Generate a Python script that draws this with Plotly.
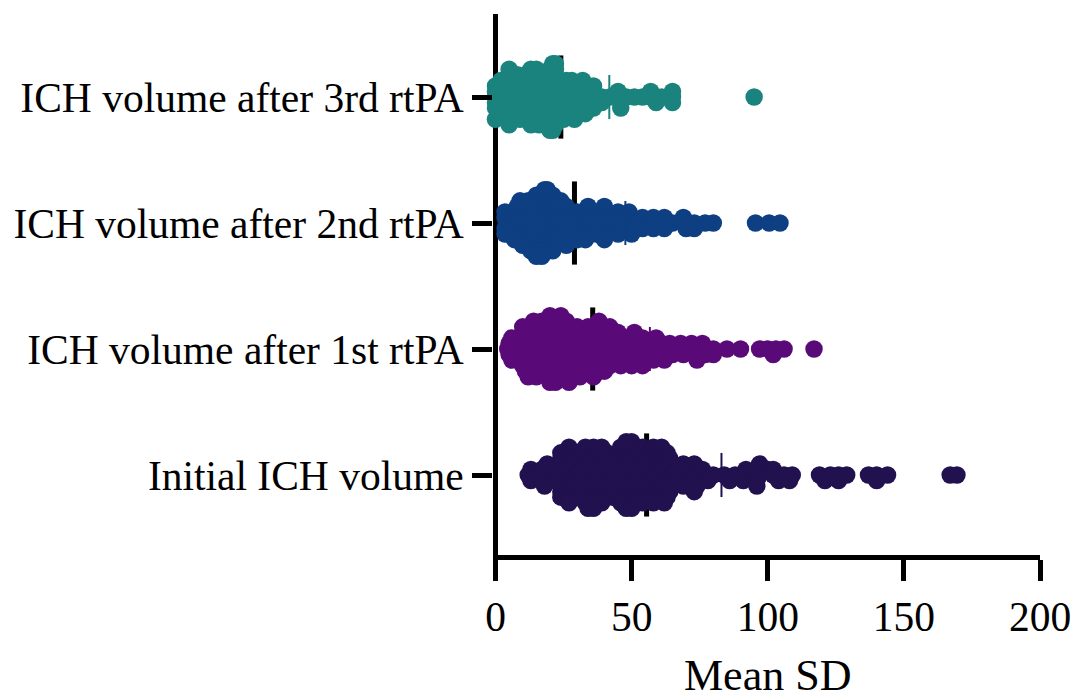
import plotly.graph_objects as go

categories = ["Initial ICH volume", "ICH volume after 1st rtPA",
              "ICH volume after 2nd rtPA", "ICH volume after 3rd rtPA"]
colors = ["#22114f", "#5a0a78", "#0d3f82", "#1a837e"]
medians = [55.5, 35.7, 29, 24]
upper_quartiles = [83, 56.7, 47.7, 41.8]
x_ticks = [0, 50, 100, 150, 200]

# Swarm rows: first list is the top row of the swarm,
# middle list is on the category line, last list is the bottom row.
initial_rows = [
    [48, 50],
    [27, 33, 36, 39, 46, 50, 54, 58, 61],
    [24, 27, 30, 33, 37, 41, 45, 49, 53, 57, 61, 63],
    [24, 28, 32, 36, 40, 44, 48, 52, 56, 60, 64],
    [19, 24, 29, 34, 39, 44, 49, 54, 59, 64, 69, 73, 97],
    [13, 17, 22, 27, 32, 37, 42, 47, 52, 57, 62, 67, 72, 76, 92, 96, 100, 102],
    [12, 16, 20, 25, 30, 35, 40, 45, 50, 55, 60, 65, 70, 75, 80, 84, 88, 92, 97, 102, 106, 109, 119, 123, 126, 129, 137, 140, 144, 167, 169.5],
    [13, 17, 22, 27, 32, 37, 42, 47, 52, 57, 62, 67, 72, 78, 86, 91, 96, 104, 108, 121, 126, 140],
    [18, 24, 29, 34, 39, 44, 49, 54, 59, 64, 69, 74, 96],
    [24, 28, 32, 36, 40, 44, 48, 52, 56, 60, 64, 73],
    [24, 27, 31, 35, 39, 43, 47, 51, 55, 59, 63],
    [27, 33, 37, 39, 46, 50, 54, 58, 62],
    [34, 36, 48, 50],
]
first_rows = [
    [20, 24],
    [14, 17, 20, 23, 26, 38],
    [10, 14, 18, 22, 26, 30, 34, 38, 42],
    [10, 14, 18, 22, 26, 30, 34, 38, 42, 45, 51],
    [6, 10, 14, 18, 22, 26, 30, 34, 38, 42, 46, 50, 54, 59],
    [5, 9, 13, 17, 21, 25, 29, 33, 37, 41, 45, 49, 53, 57, 61, 64, 68, 72, 76],
    [4.5, 8, 12, 16, 20, 24, 28, 32, 36, 40, 44, 48, 52, 56, 60, 64, 68, 72, 76, 80, 85, 90, 97, 100, 103, 106, 117],
    [5, 9, 13, 17, 21, 25, 29, 33, 37, 41, 45, 49, 53, 57, 61, 65, 69, 73, 77, 80, 102],
    [6, 10, 14, 18, 22, 26, 30, 34, 38, 42, 46, 50, 54, 58, 62, 74],
    [10, 14, 18, 22, 26, 30, 34, 38, 42, 46, 50, 54],
    [11, 14, 18, 22, 26, 30, 34, 38, 40],
    [12, 15, 19, 23, 27, 31, 36],
    [20, 22, 27],
]
second_rows = [
    [18, 19],
    [15, 18, 21],
    [9, 12, 15, 18, 21, 24],
    [8, 11, 14, 17, 20, 23, 26, 34, 40],
    [3.5, 7, 10, 14, 18, 22, 26, 30, 34, 38, 41, 45, 49],
    [3.5, 6, 10, 14, 18, 22, 26, 30, 34, 38, 42, 46, 50, 54, 58, 62, 69],
    [4, 6, 9, 13, 17, 21, 25, 29, 33, 37, 41, 45, 49, 53, 57, 61, 65, 69, 73, 77, 80, 95.5, 100.5, 104.5],
    [3.5, 6, 10, 14, 18, 22, 26, 30, 34, 38, 42, 46, 50, 54, 58, 62, 70, 73],
    [3.5, 5, 9, 13, 17, 21, 25, 29, 33, 37, 41, 45, 50],
    [7, 10, 14, 18, 22, 26, 30, 33, 40],
    [10, 13, 16, 19, 22, 26],
    [13, 16, 19, 21],
    [15, 17],
]
third_rows = [
    [21, 22],
    [5, 13, 15, 20, 22],
    [5, 8, 11, 14, 17, 20, 22],
    [2, 5, 8, 11, 14, 17, 20, 23, 26, 28, 32],
    [0, 3, 6, 9, 12, 15, 18, 21, 24, 27, 30, 33, 36],
    [0, 3, 6, 9, 12, 15, 18, 21, 24, 27, 30, 33, 36, 45, 57, 65],
    [0, 3, 6, 9, 12, 15, 18, 21, 24, 27, 30, 33, 36, 39, 42, 45, 48, 51, 54, 57, 61, 65, 95],
    [0, 3, 6, 9, 12, 15, 18, 21, 24, 27, 30, 33, 36, 39, 46, 59, 65],
    [0, 3, 6, 9, 12, 15, 18, 21, 24, 27, 30, 33, 36, 46],
    [1, 4, 7, 10, 13, 16, 19, 22, 25, 28, 31, 33],
    [0, 5, 9, 13, 17, 21, 25, 29],
    [5, 13, 16, 19, 22],
    [20, 21],
]
all_rows = [initial_rows, first_rows, second_rows, third_rows]

ROW_STEP = 0.044
FONT = "Liberation Serif"

fig = go.Figure()

# Median: thick black bar, underneath the points
fig.add_trace(go.Scatter(
    x=medians, y=list(range(4)), mode="markers",
    marker=dict(size=1, color="black", opacity=0),
    error_y=dict(type="constant", value=0.33, thickness=5, width=0, color="black"),
    cliponaxis=False, showlegend=False))

for i, rows in enumerate(all_rows):
    xs, ys = [], []
    for r, row in enumerate(rows):
        for v in row:
            xs.append(v)
            ys.append(i + (6 - r) * ROW_STEP)
    fig.add_trace(go.Scatter(
        x=xs, y=ys, mode="markers", name=categories[i],
        marker=dict(size=17.5, color=colors[i], line=dict(width=0)),
        cliponaxis=False, showlegend=False))
    # Upper quartile: thin bar in the series colour
    fig.add_trace(go.Scatter(
        x=[upper_quartiles[i]], y=[i], mode="markers",
        marker=dict(size=1, color=colors[i], opacity=0),
        error_y=dict(type="constant", value=0.175, thickness=2, width=0, color=colors[i]),
        cliponaxis=False, showlegend=False))

fig.update_layout(
    width=1085, height=694, autosize=False,
    paper_bgcolor="white", plot_bgcolor="white",
    margin=dict(l=485, r=53, t=6, b=147, pad=0),
    font=dict(family=FONT, color="black", size=41.5),
    xaxis=dict(range=[-0.92, 200], tickvals=x_ticks, showgrid=False,
               zeroline=True, zerolinecolor="black", zerolinewidth=5,
               showline=True, linecolor="black", linewidth=5,
               ticks="outside", ticklen=21, tickwidth=5, tickcolor="black",
               tickfont=dict(size=41.5)),
    yaxis=dict(range=[-0.635, 3.659], tickvals=list(range(4)), ticktext=categories,
               showgrid=False, zeroline=False, showline=False,
               ticks="outside", ticklen=20, tickwidth=5, tickcolor="black",
               tickfont=dict(size=41.5)),
    annotations=[dict(text="Mean SD", xref="paper", yref="paper", x=0.502, y=0,
                      xanchor="center", yanchor="top", yshift=-94, showarrow=False,
                      font=dict(family=FONT, size=44, color="black"))],
)

fig.write_html("out.html")
